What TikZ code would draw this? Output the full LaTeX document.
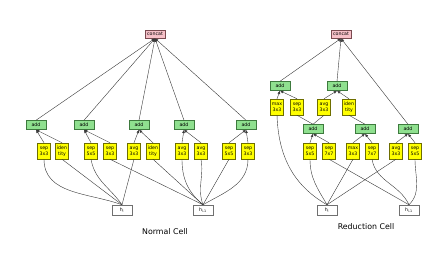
\documentclass[tikz,border=0pt]{standalone}
\usepackage{fontspec}
\setmainfont{DejaVu Sans}
\usetikzlibrary{arrows.meta, positioning}
\definecolor{addgreen}{HTML}{8FE08F}
\definecolor{addedge}{HTML}{3E7A3E}
\definecolor{catpink}{HTML}{F7C0C8}
\definecolor{catedge}{HTML}{7A4A50}
\definecolor{opyellow}{HTML}{FFFF00}
\definecolor{opedge}{HTML}{6E6E00}
\definecolor{hedge}{HTML}{707070}
\definecolor{wire}{HTML}{3A3A3A}
\tikzset{
  addnode/.style={rectangle, draw=addedge, line width=0.4pt, fill=addgreen,
    minimum width=0.6cm, minimum height=0.27cm, inner sep=0pt, font=\fontsize{4}{4}\selectfont},
  catnode/.style={addnode, draw=catedge, fill=catpink, minimum height=0.25cm},
  opnode/.style={rectangle, draw=opedge, line width=0.4pt, fill=opyellow, minimum width=0.39cm,
    minimum height=0.48cm, inner sep=0pt, align=center, font=\fontsize{4}{5}\selectfont},
  hnode/.style={rectangle, draw=hedge, line width=0.4pt, fill=white, minimum width=0.6cm,
    minimum height=0.3cm, inner sep=0pt, font=\fontsize{4}{4}\selectfont},
  arrow/.style={-{Latex[length=1mm, width=0.85mm]}, wire, line width=0.35pt},
  link/.style={wire, line width=0.35pt},
  caption/.style={font=\fontsize{6.7}{8}\selectfont},
}

\begin{document}
\begin{tikzpicture}[x=0.03cm, y=-0.03cm]
\useasboundingbox (0,0) rectangle (435,254);

% normal cell
\node[catnode] (ncat) at (155,34) {concat};
\node[addnode] (na1) at (36,125) {add};
\node[addnode] (na2) at (84,125) {add};
\node[addnode] (na3) at (139,125) {add};
\node[addnode] (na4) at (184,125) {add};
\node[addnode] (na5) at (246,125) {add};
\node[opnode] (no1) at (44,151) {sep\\3x3};
\node[opnode] (no2) at (62,151) {iden\\tity};
\node[opnode] (no3) at (91,151) {sep\\5x5};
\node[opnode] (no4) at (110,151) {sep\\3x3};
\node[opnode] (no5) at (134,151) {avg\\3x3};
\node[opnode] (no6) at (153,151) {iden\\tity};
\node[opnode] (no7) at (182,151) {avg\\3x3};
\node[opnode] (no8) at (201,151) {avg\\3x3};
\node[opnode] (no9) at (229,151) {sep\\5x5};
\node[opnode] (no10) at (248,151) {sep\\3x3};
\node[hnode] (nhi) at (122,210) {h\textsubscript{i}};
\node[hnode] (nhp) at (203,210) {h\textsubscript{i-1}};
\node[caption] (ncap) at (165,232) {Normal Cell};

\foreach \a in {na1,na2,na3,na4,na5}
  \draw[arrow] (\a.north) -- (ncat.south);
\draw[arrow] (no1.north) -- (na1.south);
\draw[arrow] (no2.north) -- (na1.south);
\draw[arrow] (no3.north) -- (na2.south);
\draw[arrow] (no4.north) -- (na2.south);
\draw[arrow] (no5.north) -- (na3.south);
\draw[arrow] (no6.north) -- (na3.south);
\draw[arrow] (no7.north) -- (na4.south);
\draw[arrow] (no8.north) -- (na4.south);
\draw[arrow] (no9.north) -- (na5.south);
\draw[arrow] (no10.north) -- (na5.south);

\draw[link] (nhi.north) to[out=160, in=-90] (no1.south);
\draw[link] (nhi.north) -- (no2.south);
\draw[link] (nhi.north) to[out=125, in=-80] (no3.south);
\draw[link] (nhi.north) -- (no5.south);
\draw[link] (nhp.north) -- (no4.south);
\draw[link] (nhp.north) -- (no6.south);
\draw[link] (nhp.north) to[out=140, in=-90] (no7.south);
\draw[link] (nhp.north) to[out=110, in=-80] (no8.south);
\draw[link] (nhp.north) -- (no9.south);
\draw[link] (nhp.north) to[out=30, in=-90] (no10.south);

% reduction cell
\node[catnode] (rcat) at (341,34) {concat};
\node[addnode] (ra1) at (280,86) {add};
\node[addnode] (ra2) at (337,86) {add};
\node[addnode] (ra3) at (313,129) {add};
\node[addnode] (ra4) at (365,129) {add};
\node[addnode] (ra5) at (408,129) {add};
\node[opnode] (ro1) at (277,107) {max\\3x3};
\node[opnode] (ro2) at (297,107) {sep\\3x3};
\node[opnode] (ro3) at (324,107) {avg\\3x3};
\node[opnode] (ro4) at (349,107) {iden\\tity};
\node[opnode] (ro5) at (310,151) {sep\\5x5};
\node[opnode] (ro6) at (329,151) {sep\\7x7};
\node[opnode] (ro7) at (353,151) {max\\3x3};
\node[opnode] (ro8) at (372,151) {sep\\7x7};
\node[opnode] (ro9) at (396,151) {avg\\3x3};
\node[opnode] (ro10) at (415,151) {sep\\5x5};
\node[hnode] (rhi) at (327,210) {h\textsubscript{i}};
\node[hnode] (rhp) at (409,210) {h\textsubscript{i-1}};
\node[caption] (rcap) at (366,227) {Reduction Cell};

\foreach \a in {ra1,ra2,ra5}
  \draw[arrow] (\a.north) -- (rcat.south);
\draw[arrow] (ro1.north) -- (ra1.south);
\draw[arrow] (ro2.north) -- (ra1.south);
\draw[arrow] (ro3.north) -- (ra2.south);
\draw[arrow] (ro4.north) -- (ra2.south);
\draw[link] (ra3.north) -- (ro2.south);
\draw[link] (ra3.north) -- (ro3.south);
\draw[link] (ra4.north) -- (ro4.south);
\draw[arrow] (ro5.north) -- (ra3.south);
\draw[arrow] (ro6.north) -- (ra3.south);
\draw[arrow] (ro7.north) -- (ra4.south);
\draw[arrow] (ro8.north) -- (ra4.south);
\draw[arrow] (ro9.north) -- (ra5.south);
\draw[arrow] (ro10.north) -- (ra5.south);

\draw[link] (rhi.north) to[out=150, in=-88] (ro1.south);
\draw[link] (rhi.north) to[out=120, in=-90] (ro5.south);
\draw[link] (rhi.north) -- (ro7.south);
\draw[link] (rhi.north) -- (ro9.south);
\draw[link] (rhp.north) -- (ro6.south);
\draw[link] (rhp.north) to[out=115, in=-80] (ro8.south);
\draw[link] (rhp.north) to[out=45, in=-90] (ro10.south);
\end{tikzpicture}
\end{document}
